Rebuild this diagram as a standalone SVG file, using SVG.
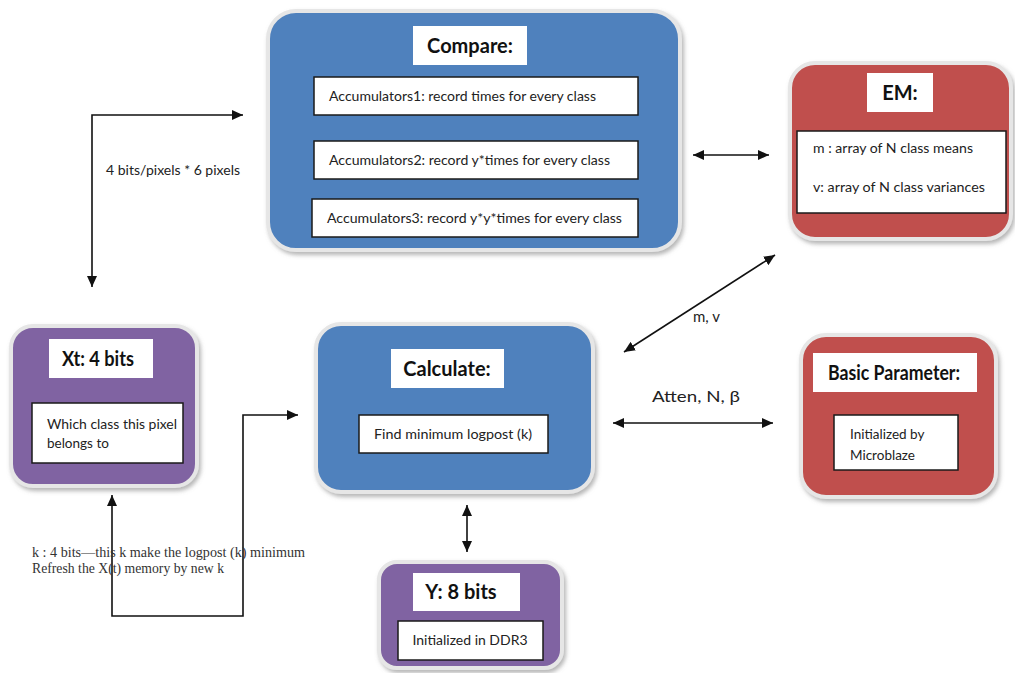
<svg xmlns="http://www.w3.org/2000/svg" width="1015" height="673" viewBox="0 0 1015 673">
  <style>
    .node { stroke: #e6e6e6; stroke-width: 4; filter: url(#shadow); }
    .blue { fill: #4f81bd; }
    .red { fill: #c0504d; }
    .purple { fill: #8064a2; }
    .title { fill: #ffffff; stroke: none; }
    .inner { fill: #ffffff; stroke: #1a1a1a; stroke-width: 1.5; }
    .t { font-family: Lato, "Open Sans", "Liberation Sans", sans-serif; fill: #222222; }
    .tb { font-family: Lato, "Open Sans", "Liberation Sans", sans-serif; font-weight: bold; fill: #111111; font-size: 20px; text-anchor: middle; }
    .s { font-size: 13.5px; }
    .serif { font-family: "Liberation Serif", "Times New Roman", serif; font-size: 15px; fill: #333333; }
    .conn { fill: none; stroke: #111111; stroke-width: 1.6; marker-end: url(#arrow); }
    .both { marker-start: url(#arrow); }
  </style>
  <defs>
    <filter id="shadow" x="-10%" y="-10%" width="125%" height="125%">
      <feDropShadow dx="2" dy="3" stdDeviation="2" flood-color="#7a7a7a" flood-opacity="0.55"/>
    </filter>
    <marker id="arrow" markerUnits="userSpaceOnUse" markerWidth="11" markerHeight="10" refX="11" refY="5" orient="auto-start-reverse">
      <path d="M0,0 L11,5 L0,10 z" fill="#111111"/>
    </marker>
  </defs>

  <rect width="1015" height="673" fill="#ffffff"/>

  <!-- Connectors -->
  <g id="connectors">
    <path class="conn both" d="M92,287 L92,115 L243,115"/>
    <path class="conn both" d="M693,155 L769,155"/>
    <path class="conn both" d="M775,255 L624,352"/>
    <path class="conn both" d="M613,423 L773,423"/>
    <path class="conn both" d="M467,505 L467,552"/>
    <path class="conn both" d="M112,495 L112,616 L243,616 L243,415 L298,415"/>
    <text class="t" x="106" y="175" font-size="13" textLength="134" lengthAdjust="spacingAndGlyphs">4 bits/pixels * 6 pixels</text>
    <text class="t" x="693" y="322" font-size="15">m, v</text>
    <text class="t" x="652" y="402" font-size="16" textLength="88" lengthAdjust="spacingAndGlyphs">Atten, N, β</text>
    <text class="serif" x="32" y="557" textLength="273" lengthAdjust="spacingAndGlyphs">k : 4 bits—this k make the logpost (k) minimum</text>
    <text class="serif" x="32" y="573" textLength="192" lengthAdjust="spacingAndGlyphs">Refresh the X(t) memory by new k</text>
  </g>

  <!-- Compare -->
  <g id="compare">
    <rect class="node blue" x="268" y="11" width="412" height="239" rx="28"/>
    <rect class="title" x="413" y="26" width="114" height="39"/>
    <text class="tb" x="470" y="53">Compare:</text>
    <rect class="inner" x="314" y="77" width="324" height="38"/>
    <text class="t s" x="329" y="101" textLength="267" lengthAdjust="spacingAndGlyphs">Accumulators1: record times for every class</text>
    <rect class="inner" x="314" y="141" width="324" height="38"/>
    <text class="t s" x="329" y="165" textLength="281" lengthAdjust="spacingAndGlyphs">Accumulators2: record y*times for every class</text>
    <rect class="inner" x="312" y="199" width="326" height="38"/>
    <text class="t s" x="327" y="223" textLength="295" lengthAdjust="spacingAndGlyphs">Accumulators3: record y*y*times for every class</text>
  </g>

  <!-- EM -->
  <g id="em">
    <rect class="node red" x="790" y="63" width="221" height="176" rx="25"/>
    <rect class="title" x="867" y="73" width="66" height="39"/>
    <text class="tb" x="900" y="100">EM:</text>
    <rect class="inner" x="797" y="131" width="209" height="82"/>
    <text class="t s" x="813" y="153" textLength="160" lengthAdjust="spacingAndGlyphs">m : array of N class means</text>
    <text class="t s" x="813" y="192" textLength="172" lengthAdjust="spacingAndGlyphs">v:  array of N class variances</text>
  </g>

  <!-- Xt -->
  <g id="xt">
    <rect class="node purple" x="11" y="326" width="186" height="160" rx="22"/>
    <rect class="title" x="49" y="339" width="104" height="39"/>
    <text class="tb" x="98" y="366" textLength="72" lengthAdjust="spacingAndGlyphs">Xt: 4 bits</text>
    <rect class="inner" x="32" y="403" width="151" height="60"/>
    <text class="t s" x="47" y="429" textLength="130" lengthAdjust="spacingAndGlyphs">Which class this pixel</text>
    <text class="t s" x="47" y="448">belongs to</text>
  </g>

  <!-- Calculate -->
  <g id="calculate">
    <rect class="node blue" x="316" y="324" width="277" height="168" rx="25"/>
    <rect class="title" x="391" y="349" width="113" height="39"/>
    <text class="tb" x="447" y="376">Calculate:</text>
    <rect class="inner" x="359" y="415" width="189" height="38"/>
    <text class="t s" x="453" y="439" text-anchor="middle" textLength="158" lengthAdjust="spacingAndGlyphs">Find minimum logpost (k)</text>
  </g>

  <!-- Basic Parameter -->
  <g id="basic-parameter">
    <rect class="node red" x="801" y="335" width="195" height="162" rx="25"/>
    <rect class="title" x="813" y="353" width="164" height="39"/>
    <text class="tb" x="894" y="380" textLength="132" lengthAdjust="spacingAndGlyphs">Basic Parameter:</text>
    <rect class="inner" x="834" y="415" width="124" height="55"/>
    <text class="t s" x="850" y="439">Initialized by</text>
    <text class="t s" x="850" y="460">Microblaze</text>
  </g>

  <!-- Y -->
  <g id="y">
    <rect class="node purple" x="379" y="562" width="183" height="106" rx="18"/>
    <rect class="title" x="413" y="573" width="107" height="38"/>
    <text class="tb" x="461" y="599">Y: 8 bits</text>
    <rect class="inner" x="398" y="621" width="145" height="39"/>
    <text class="t s" x="470" y="645" text-anchor="middle" textLength="115" lengthAdjust="spacingAndGlyphs">Initialized in DDR3</text>
  </g>
</svg>
